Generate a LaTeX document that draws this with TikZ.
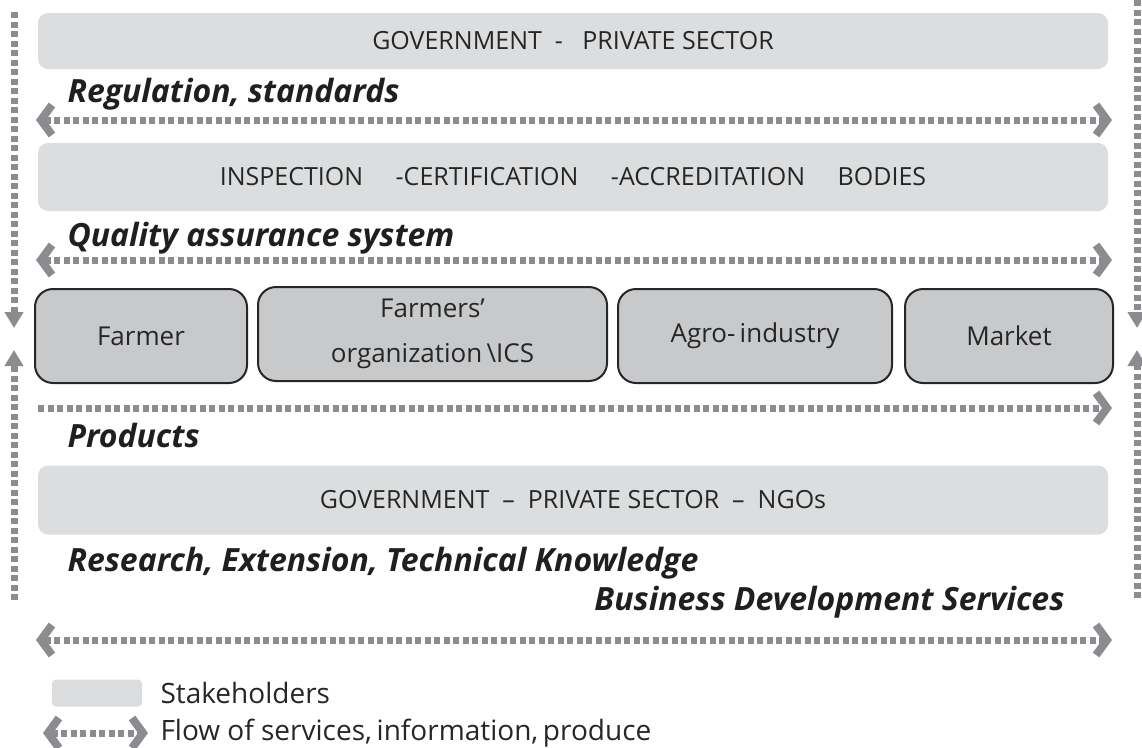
\documentclass[tikz,border=0pt]{standalone}
\usepackage{fontspec}
\setmainfont{Open Sans}
\usetikzlibrary{arrows.meta}
\definecolor{stk}{HTML}{DCDDDE}
\definecolor{act}{HTML}{C8C9CB}
\definecolor{flow}{HTML}{8A8C90}
\begin{document}
\begin{tikzpicture}[x=1pt,y=-1pt,
  stkbox/.style={fill=stk,rounded corners=10pt,draw=none},
  actor/.style={fill=act,draw=black!85,line width=2pt,rounded corners=18pt,align=center,font=\fontsize{26}{45}\selectfont,text=black!85},
  boxtext/.style={font=\fontsize{25}{30}\selectfont,text=black!85},
  head/.style={font=\fontsize{32}{36}\selectfont\bfseries\itshape,anchor=west,text=black!88},
  flowline/.style={draw=flow,line width=7pt,dash pattern=on 6pt off 3.5pt},
  tipb/.tip={Straight Barb[length=11pt,width=30pt,line width=8pt 0,sep=-2pt]},
  twoway/.style={flowline,tipb-tipb},
  oneway/.style={flowline,-tipb},
  vert/.style={flowline,-{Triangle[length=16pt,width=18pt]}}]
\useasboundingbox (0,0) rectangle (1142,747);
% stakeholder boxes
\node[stkbox,minimum width=1070pt,minimum height=56pt,boxtext] (gov) at (573,41) {GOVERNMENT\ \ -\ \ \ PRIVATE SECTOR};
\node[stkbox,minimum width=1070pt,minimum height=68pt,boxtext] (icab) at (573,177) {INSPECTION\ \ \ \ \ -CERTIFICATION\ \ \ \ \ -ACCREDITATION\ \ \ \ \ BODIES};
\node[stkbox,minimum width=1070pt,minimum height=69pt,boxtext] (gov2) at (573,500) {GOVERNMENT\ \ –\ \ PRIVATE SECTOR\ \ –\ \ NGOs};
% actors
\node[actor,minimum width=212pt,minimum height=94pt] (farmer) at (141,336) {Farmer};
\node[actor,minimum width=349pt,minimum height=94pt] (fo) at (432.5,334) {Farmers’\\organization\,\textbackslash ICS};
\node[actor,minimum width=274pt,minimum height=94pt] (agro) at (755,336) {Agro-\,industry};
\node[actor,minimum width=208pt,minimum height=94pt] (market) at (1009,336) {Market};
% headings
\node[head] (reg) at (64,94) {Regulation, standards};
\node[head] (qas) at (64,238) {Quality assurance system};
\node[head] (prod) at (64,435) {Products};
\node[head] (res) at (64,563) {Research, Extension, Technical Knowledge};
\node[head,anchor=east] (bds) at (1068,602) {Business Development Services};
% coordinates for flows
\coordinate (a1l) at (38,120); \coordinate (a1r) at (1110,120);
\coordinate (a2l) at (38,260); \coordinate (a2r) at (1110,260);
\coordinate (a3l) at (38,408); \coordinate (a3r) at (1110,408);
\coordinate (a4l) at (38,640); \coordinate (a4r) at (1110,640);
\draw[twoway] (a1l) -- (a1r);
\draw[twoway] (a2l) -- (a2r);
\draw[oneway] (a3l) -- (a3r);
\draw[twoway] (a4l) -- (a4r);
% verticals
\coordinate (vl1) at (14,12); \coordinate (vl2) at (14,328);
\coordinate (vl3) at (14,600); \coordinate (vl4) at (14,350);
\coordinate (vr1) at (1137,0); \coordinate (vr2) at (1137,328);
\coordinate (vr3) at (1137,598); \coordinate (vr4) at (1137,350);
\draw[vert] (vl1) -- (vl2);
\draw[vert] (vl3) -- (vl4);
\draw[vert] (vr1) -- (vr2);
\draw[vert] (vr3) -- (vr4);
% legend
\node[stkbox,rounded corners=4pt,minimum width=90pt,minimum height=27pt] (lgbox) at (97,693) {};
\node[anchor=west,font=\fontsize{28}{32}\selectfont,text=black!85] (lgt1) at (157,693) {Stakeholders};
\coordinate (lgl) at (45,733); \coordinate (lgr) at (146,733);
\draw[twoway] (lgl) -- (lgr);
\node[anchor=west,font=\fontsize{28}{32}\selectfont,text=black!85] (lgt2) at (157,733) {Flow of services,\,information,\,produce};
\end{tikzpicture}
\end{document}
